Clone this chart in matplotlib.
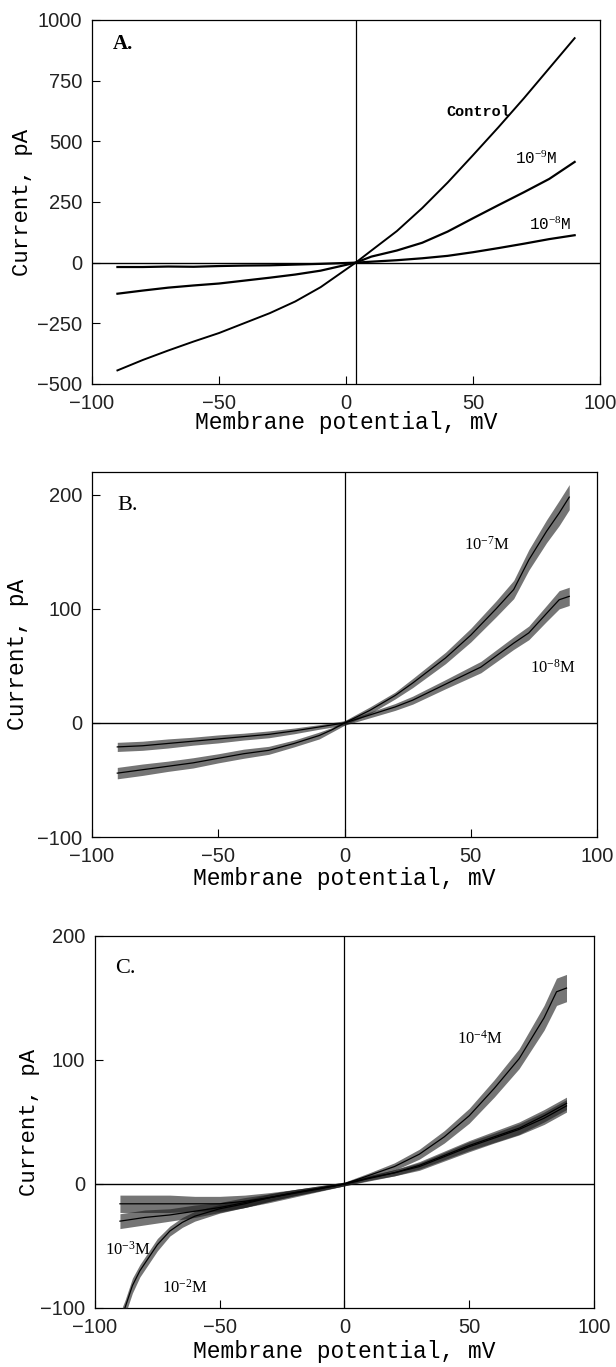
import matplotlib
matplotlib.use('Agg')
import matplotlib.pyplot as plt

plt.rcParams['mathtext.fontset'] = 'custom'
plt.rcParams['mathtext.rm'] = 'Liberation Serif'
plt.rcParams['mathtext.it'] = 'Liberation Serif:italic'
plt.rcParams['axes.unicode_minus'] = True

# ---------------- Panel A ----------------
a_ctrl_x = [-90, -80, -70, -60, -50, -40, -30, -20, -10, 3.8, 10, 20, 30, 40, 50, 60, 70, 80, 90]
a_ctrl_y = [-444, -401, -362, -325, -290, -249, -208, -160, -101, 0, 50, 130, 225, 330, 443, 558, 677, 801, 925]
a_9_x = [-90, -80, -70, -60, -50, -40, -30, -20, -10, 3.8, 10, 20, 30, 40, 50, 60, 70, 80, 90]
a_9_y = [-128, -115, -103, -94, -86, -74, -62, -49, -33, 0, 25, 50, 82, 128, 183, 237, 290, 345, 415]
a_8_x = [-90, -80, -70, -60, -50, -40, -30, -20, -10, 3.8, 10, 20, 30, 40, 50, 60, 70, 80, 90]
a_8_y = [-18, -18, -16, -17, -14, -12, -11, -8, -5, 0, 4, 10, 18, 28, 43, 60, 78, 97, 113]
a_zero_x = 3.8

# ---------------- Panel B ----------------
b_7_x = [-90, -80, -70, -60, -50, -40, -30, -20, -10, -5, 0, 10, 20, 27, 40, 50, 60, 67, 73, 80, 85, 89]
b_7_y = [-44, -41, -38, -35, -31, -27, -24, -18, -11, -6, 0, 11, 24, 35, 57, 77, 100, 117, 143, 168, 184, 198]
b_7_n = [5, 5, 4.5, 4.5, 4, 4, 3.5, 3, 3, 2, 2, 3, 3, 4, 5, 6, 7, 8, 9, 10, 11, 11]
b_8_x = [-90, -80, -70, -60, -50, -40, -30, -20, -10, 0, 10, 20, 27, 40, 54, 67, 73, 80, 85, 89]
b_8_y = [-21, -20, -18, -16, -14, -12, -10, -7, -3.5, 0, 7, 14, 20, 34, 49, 70, 79, 96, 108, 111]
b_8_n = [4, 4, 4, 3.5, 3.5, 3, 3, 2.5, 2, 2, 2.5, 3, 3.5, 4, 5, 5.5, 6, 7, 8, 8]

# ---------------- Panel C ----------------
c_4_x = [-90, -80, -70, -60, -50, -40, -30, -20, -10, 0, 10, 20, 30, 40, 50, 60, 70, 80, 85, 89]
c_4_y = [-16, -16, -16, -16, -16, -14, -11, -7.5, -4, 0, 7, 14, 24, 38, 55, 77, 101, 134, 155, 158]
c_4_n = [7, 7, 7, 6, 6, 5, 4, 3, 2, 1.5, 2, 3, 4, 5, 6, 7, 8, 10, 11, 11]
c_3_x = [-90, -80, -70, -60, -50, -40, -30, -20, -10, 0, 10, 20, 30, 40, 50, 60, 70, 80, 89]
c_3_y = [-30, -27, -25, -22, -19, -15, -11, -7, -3.5, 0, 5, 9, 15, 23, 31, 38, 45, 55, 65]
c_3_n = [6, 6, 5, 5, 4, 4, 3, 2.5, 2, 1.5, 2, 2.5, 3, 3.5, 4, 4.5, 5, 5, 5]
c_2_x = [-89, -88, -85, -82, -78, -75, -70, -65, -60, -50, -40, -30, -20, -10, 0, 10, 20, 30, 40, 50, 60, 70, 80, 89]
c_2_y = [-105, -100, -82, -70, -58, -49, -38, -31, -26, -20, -16, -11, -7, -3.5, 0, 4.5, 9, 14, 22, 30, 37, 44, 53, 63]
c_2_n = [6, 6, 6, 5, 5, 5, 4, 4, 4, 3.5, 3, 3, 2.5, 2, 1.5, 2, 2.5, 3, 3.5, 4, 4, 4.5, 5, 5]

x_ticks = [-100, -50, 0, 50, 100]

fig = plt.figure(figsize=(6.16, 13.67), dpi=100)

TICKFONT = 'Liberation Sans'
LABELFONT = 'Liberation Mono'


def style(ax, ylim, yticks, xlab_y, ylab_x, ylab_size):
    ax.set_xlim(-100, 100)
    ax.set_ylim(*ylim)
    ax.set_xticks(x_ticks)
    ax.set_yticks(yticks)
    ax.tick_params(direction='in', length=6, width=0.8, labelsize=14.5,
                   pad=7, colors='black', labelcolor='#222222')
    for lab in ax.get_xticklabels() + ax.get_yticklabels():
        lab.set_fontfamily(TICKFONT)
    for s in ax.spines.values():
        s.set_linewidth(0.9)
    ax.set_xlabel('Membrane potential, mV', fontfamily=LABELFONT, fontsize=16.5)
    ax.set_ylabel('Current, pA', fontfamily=LABELFONT, fontsize=ylab_size)
    ax.xaxis.set_label_coords(0.5, xlab_y)
    ax.xaxis.label.set_va('center')
    ax.yaxis.set_label_coords(ylab_x, 0.5)
    ax.yaxis.label.set_va('center')


def trace(ax, x, y, n=None, lw=1.3):
    if n is not None:
        lo = [a - b for a, b in zip(y, n)]
        hi = [a + b for a, b in zip(y, n)]
        ax.fill_between(x, lo, hi, color='0.1', alpha=0.6, lw=0, zorder=3)
    ax.plot(x, y, color='black', lw=lw, zorder=4)


# Panel A  (axes: x 92-600 px, y 20-384 px)
axA = fig.add_axes([0.1494, 0.7191, 0.8247, 0.2663])
axA.axhline(0, color='black', lw=1.0, zorder=2)
axA.axvline(a_zero_x, color='black', lw=0.9, zorder=2)
trace(axA, a_ctrl_x, a_ctrl_y, lw=1.4)
trace(axA, a_9_x, a_9_y, lw=1.6)
trace(axA, a_8_x, a_8_y, lw=1.6)
style(axA, (-500, 1000), [-500, -250, 0, 250, 500, 750, 1000], -0.107, -0.136, 16)
axA.text(-92, 900, 'A.', fontfamily='Liberation Serif', fontweight='bold', fontsize=15, va='center')
axA.text(64.5, 622, 'Control', fontfamily=LABELFONT, fontsize=11, fontweight='bold', ha='right', va='center')
axA.text(66.5, 428, '10$^{-9}$M', fontfamily=LABELFONT, fontsize=11.5, va='center')
axA.text(72, 158, '10$^{-8}$M', fontfamily=LABELFONT, fontsize=11.5, va='center')

# Panel B  (axes: x 92-597 px, y 472-837 px)
axB = fig.add_axes([0.1494, 0.3877, 0.8198, 0.2670])
axB.axhline(0, color='black', lw=1.0, zorder=2)
axB.axvline(0, color='black', lw=0.9, zorder=2)
trace(axB, b_7_x, b_7_y, b_7_n, lw=0.9)
trace(axB, b_8_x, b_8_y, b_8_n, lw=0.9)
style(axB, (-100, 220), [-100, 0, 100, 200], -0.115, -0.147, 16.5)
axB.text(-90, 191, 'B.', fontfamily='Liberation Serif', fontsize=16, va='center')
axB.text(47.5, 156, '10$^{-7}$M', fontfamily='Liberation Serif', fontsize=12, va='center')
axB.text(73.5, 48, '10$^{-8}$M', fontfamily='Liberation Serif', fontsize=12, va='center')

# Panel C  (axes: x 95-594 px, y 936-1308 px)
axC = fig.add_axes([0.1542, 0.0432, 0.810, 0.2721])
axC.axhline(0, color='black', lw=1.0, zorder=2)
axC.axvline(0, color='black', lw=0.9, zorder=2)
trace(axC, c_4_x, c_4_y, c_4_n, lw=0.9)
trace(axC, c_3_x, c_3_y, c_3_n, lw=0.9)
trace(axC, c_2_x, c_2_y, c_2_n, lw=0.9)
style(axC, (-100, 200), [-100, 0, 100, 200], -0.118, -0.132, 16)
axC.text(-92, 174, 'C.', fontfamily='Liberation Serif', fontsize=16, va='center')
axC.text(45, 117, '10$^{-4}$M', fontfamily='Liberation Serif', fontsize=12, va='center')
axC.text(-96, -53, '10$^{-3}$M', fontfamily='Liberation Serif', fontsize=12, va='center')
axC.text(-73, -84, '10$^{-2}$M', fontfamily='Liberation Serif', fontsize=12, va='center')

fig.savefig('out.png', dpi=100)
